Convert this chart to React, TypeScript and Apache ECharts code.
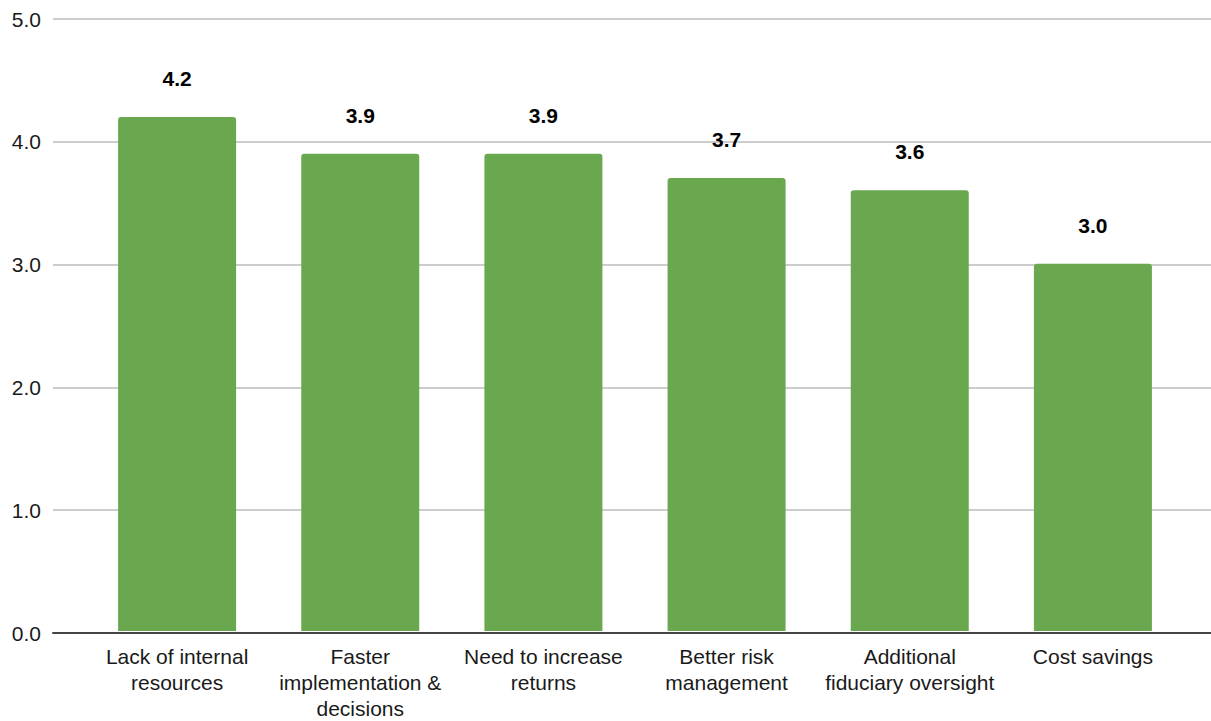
import React, { useEffect, useRef } from "react";
import * as echarts from "echarts";

const categories = [
  "Lack of internal\nresources",
  "Faster\nimplementation &\ndecisions",
  "Need to increase\nreturns",
  "Better risk\nmanagement",
  "Additional\nfiduciary oversight",
  "Cost savings",
];
const values = [4.2, 3.9, 3.9, 3.7, 3.6, 3.0];
const yMin = 0;
const yMax = 5;
const yStep = 1;

const FONT = "'Liberation Sans', Arial, Helvetica, sans-serif";

export default function App() {
  const ref = useRef<HTMLDivElement>(null);
  useEffect(() => {
    if (!ref.current) return;
    const chart = echarts.init(ref.current, undefined, { renderer: "svg" });
    chart.setOption({
      animation: false,
      backgroundColor: "#ffffff",
      textStyle: { fontFamily: FONT },
      grid: [
        { left: 53, right: 0, top: 19, bottom: 88 },
        { left: 85.5, right: 26.5, top: 19, bottom: 88 },
      ],
      xAxis: [
        {
          type: "value",
          gridIndex: 0,
          min: 0,
          max: 1,
          axisLine: { show: true, onZero: false, lineStyle: { color: "#444444", width: 2 } },
          axisTick: { show: false },
          axisLabel: { show: false },
          splitLine: { show: false },
        },
        {
          type: "category",
          gridIndex: 1,
          data: categories,
          axisLine: { show: false },
          axisTick: { show: false },
          axisLabel: {
            interval: 0,
            margin: 12,
            fontSize: 21,
            lineHeight: 26,
            color: "#1a1a1a",
            fontFamily: FONT,
          },
          splitLine: { show: false },
        },
      ],
      yAxis: [
        {
          type: "value",
          gridIndex: 0,
          min: yMin,
          max: yMax,
          interval: yStep,
          axisLine: { show: false },
          axisTick: { show: false },
          axisLabel: {
            margin: 12,
            fontSize: 21,
            color: "#1a1a1a",
            fontFamily: FONT,
            formatter: (v: number) => v.toFixed(1),
          },
          splitLine: { show: true, lineStyle: { color: "#cccccc", width: 2 } },
        },
        {
          type: "value",
          gridIndex: 1,
          min: yMin,
          max: yMax,
          interval: yStep,
          show: false,
          splitLine: { show: false },
        },
      ],
      series: [
        {
          type: "bar",
          xAxisIndex: 1,
          yAxisIndex: 1,
          data: values,
          barWidth: 118,
          itemStyle: { color: "#6aa84f", borderRadius: [3, 3, 0, 0] },
          label: {
            show: true,
            position: "top",
            distance: 28,
            fontSize: 21,
            fontWeight: "bold",
            color: "#000000",
            fontFamily: FONT,
            formatter: (p: any) => Number(p.value).toFixed(1),
          },
        },
      ],
    });
    return () => chart.dispose();
  }, []);
  return (
    <div
      ref={ref}
      style={{ position: "fixed", left: 0, top: 0, width: 1211, height: 721 }}
    />
  );
}
